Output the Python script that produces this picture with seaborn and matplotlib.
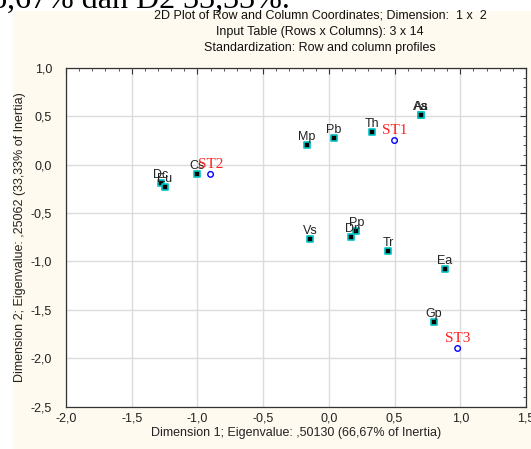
import matplotlib
matplotlib.use("Agg")
import matplotlib.pyplot as plt
from matplotlib.patches import Rectangle
from matplotlib.ticker import MultipleLocator, FuncFormatter
import pandas as pd
import seaborn as sns

# column points (14 columns)
col_labels = ["Mp", "Pb", "Th", "Aa", "As", "Cs", "Dc", "Eu", "Vs", "Dr", "Pp", "Tr", "Ea", "Gp"]
col_dim1 = [-0.17, 0.04, 0.33, 0.70, 0.70, -1.00, -1.28, -1.25, -0.14, 0.17, 0.21, 0.45, 0.88, 0.80]
col_dim2 = [0.20, 0.28, 0.34, 0.51, 0.51, -0.10, -0.19, -0.23, -0.77, -0.75, -0.69, -0.89, -1.08, -1.63]

# row points (3 rows)
row_labels = ["ST1", "ST2", "ST3"]
row_dim1 = [0.50, -0.90, 0.98]
row_dim2 = [0.25, -0.10, -1.90]

cols = pd.DataFrame({"label": col_labels, "dim1": col_dim1, "dim2": col_dim2})
rows = pd.DataFrame({"label": row_labels, "dim1": row_dim1, "dim2": row_dim2})

sns.set_style("white")
plt.rcParams["font.family"] = ["Liberation Sans", "DejaVu Sans"]

W, H = 531, 449
fig = plt.figure(figsize=(W / 100, H / 100), dpi=100)
fig.patch.set_facecolor("white")
fig.add_artist(Rectangle((13 / W, 0), 1, 1 - 11 / H, transform=fig.transFigure,
                         facecolor="#fffaf0", edgecolor="none", zorder=-5))

# cut-off sentence from the document above the chart
fig.text(290 / W, 1 - 8 / H, "D1 66,67% dan D2 33,33%.", ha="right", va="baseline",
         fontsize=23, family=["Liberation Serif"], color="black")

fig.text(320 / W, 1 - 10 / H,
         "2D Plot of Row and Column Coordinates; Dimension:  1 x  2\n"
         "Input Table (Rows x Columns): 3 x 14\n"
         "Standardization: Row and column profiles",
         ha="center", va="top", fontsize=9, linespacing=1.45, color="#111111")

ax = fig.add_axes([66 / W, 42.5 / H, 460 / W, 338.5 / H])
ax.set_facecolor("white")

sns.scatterplot(data=cols, x="dim1", y="dim2", marker="s", s=24, color="black",
                edgecolor="#00c4c4", linewidth=1.2, ax=ax, zorder=3)
sns.scatterplot(data=rows, x="dim1", y="dim2", marker="o", s=16, facecolor="none",
                edgecolor="blue", linewidth=1, ax=ax, zorder=3)

for _, r in cols.iterrows():
    ax.annotate(r["label"], (r["dim1"], r["dim2"]), xytext=(0, 1.5), textcoords="offset points",
                ha="center", va="bottom", fontsize=9, color="#222222", zorder=4)
for _, r in rows.iterrows():
    ax.annotate(r["label"], (r["dim1"], r["dim2"]), xytext=(0, 2.5), textcoords="offset points",
                ha="center", va="bottom", fontsize=11, color="#ff2020",
                family=["Liberation Serif"], zorder=4)

ax.set_xlim(-2.0, 1.5)
ax.set_ylim(-2.5, 1.0)


def comma_fmt(v, pos):
    if abs(v) < 1e-9:
        v = 0.0
    return f"{v:.1f}".replace(".", ",")


for axis in (ax.xaxis, ax.yaxis):
    axis.set_major_locator(MultipleLocator(0.5))
    axis.set_minor_locator(MultipleLocator(0.1))
    axis.set_major_formatter(FuncFormatter(comma_fmt))

ax.tick_params(which="both", direction="in", top=True, right=True, colors="#333333",
               labelcolor="#222222", labelsize=9)
ax.tick_params(which="major", length=4, width=0.8)
ax.tick_params(which="minor", length=2.5, width=0.6)
ax.tick_params(axis="y", pad=10)
ax.tick_params(axis="x", pad=4)

ax.grid(True, which="major", color="#dcdcdc", linewidth=1)
ax.set_axisbelow(True)
for sp in ax.spines.values():
    sp.set_color("#333333")
    sp.set_linewidth(0.9)

ax.set_xlabel("Dimension 1; Eigenvalue: ,50130 (66,67% of Inertia)", fontsize=9, color="#222222")
ax.set_ylabel("Dimension 2; Eigenvalue: ,25062 (33,33% of Inertia)", fontsize=9, color="#222222")
ax.xaxis.set_label_coords(0.5, -0.06)
ax.yaxis.set_label_coords(-0.088, 0.5)

fig.savefig("out.png", dpi=100)
